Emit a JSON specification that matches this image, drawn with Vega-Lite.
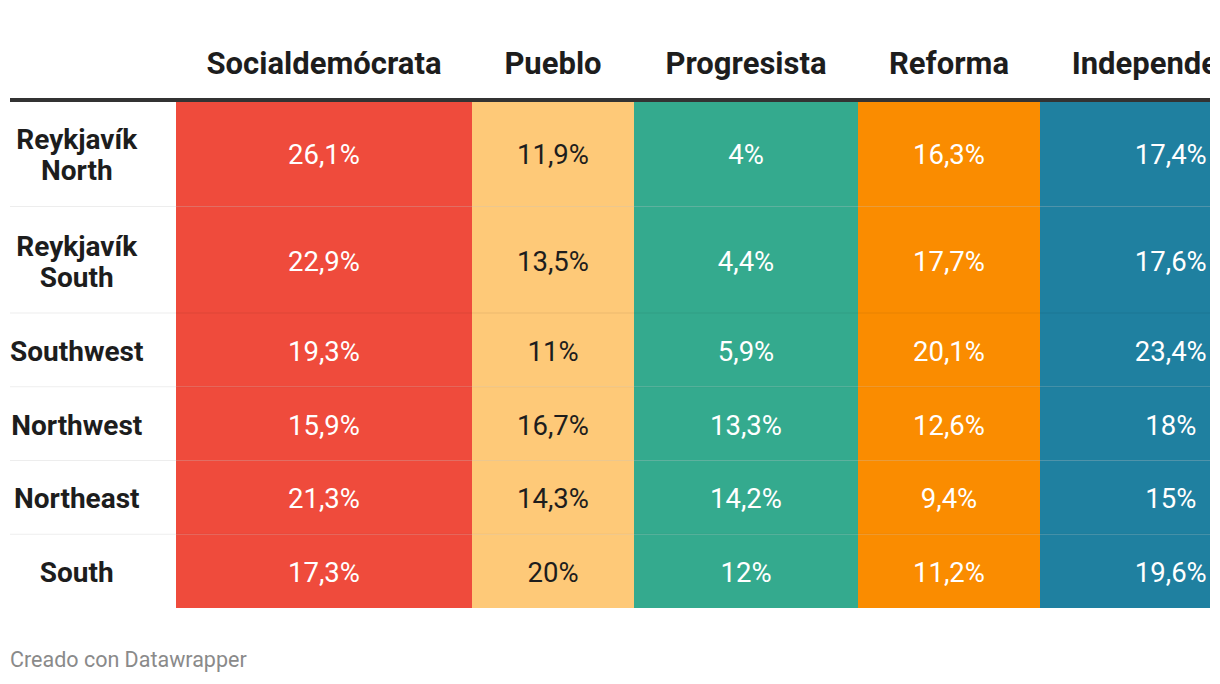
{
  "$schema": "https://vega.github.io/schema/vega-lite/v6.json",
  "padding": {"left": 8, "right": 8, "top": 0, "bottom": 0},
  "background": "#ffffff",
  "spacing": 0,
  "bounds": "flush",
  "columns": 6,
  "config": {
    "view": {"stroke": null},
    "concat": {"spacing": 0},
    "font": "Roboto",
    "locale": {"number": {"decimal": ",", "thousands": ".", "grouping": [3], "currency": ["", " €"]}}
  },
  "data": {"values": [
    {"region": "Reykjavík North", "party": "Socialdemócrata", "share": 0.261},
    {"region": "Reykjavík North", "party": "Pueblo", "share": 0.119},
    {"region": "Reykjavík North", "party": "Progresista", "share": 0.04},
    {"region": "Reykjavík North", "party": "Reforma", "share": 0.163},
    {"region": "Reykjavík North", "party": "Independencia", "share": 0.174},
    {"region": "Reykjavík South", "party": "Socialdemócrata", "share": 0.229},
    {"region": "Reykjavík South", "party": "Pueblo", "share": 0.135},
    {"region": "Reykjavík South", "party": "Progresista", "share": 0.044},
    {"region": "Reykjavík South", "party": "Reforma", "share": 0.177},
    {"region": "Reykjavík South", "party": "Independencia", "share": 0.176},
    {"region": "Southwest", "party": "Socialdemócrata", "share": 0.193},
    {"region": "Southwest", "party": "Pueblo", "share": 0.11},
    {"region": "Southwest", "party": "Progresista", "share": 0.059},
    {"region": "Southwest", "party": "Reforma", "share": 0.201},
    {"region": "Southwest", "party": "Independencia", "share": 0.234},
    {"region": "Northwest", "party": "Socialdemócrata", "share": 0.159},
    {"region": "Northwest", "party": "Pueblo", "share": 0.167},
    {"region": "Northwest", "party": "Progresista", "share": 0.133},
    {"region": "Northwest", "party": "Reforma", "share": 0.126},
    {"region": "Northwest", "party": "Independencia", "share": 0.18},
    {"region": "Northeast", "party": "Socialdemócrata", "share": 0.213},
    {"region": "Northeast", "party": "Pueblo", "share": 0.143},
    {"region": "Northeast", "party": "Progresista", "share": 0.142},
    {"region": "Northeast", "party": "Reforma", "share": 0.094},
    {"region": "Northeast", "party": "Independencia", "share": 0.15},
    {"region": "South", "party": "Socialdemócrata", "share": 0.173},
    {"region": "South", "party": "Pueblo", "share": 0.2},
    {"region": "South", "party": "Progresista", "share": 0.12},
    {"region": "South", "party": "Reforma", "share": 0.112},
    {"region": "South", "party": "Independencia", "share": 0.196}
  ]},
  "concat": [
    {"width": 166, "height": 100, "data": {"values": [{}]}, "mark": {"type": "text", "text": ""}, "encoding": {}},
    {"width": 296, "height": 100,
     "transform": [{"filter": {"and": [{"field": "party", "equal": "Socialdemócrata"}, {"field": "region", "equal": "Reykjavík North"}]}}],
     "mark": {"type": "text", "font": "Roboto", "fontSize": 31, "fontWeight": "bold", "color": "#1d1d1d", "baseline": "alphabetic", "align": "center", "clip": true},
     "encoding": {"text": {"field": "party"}, "x": {"datum": 0.5, "type": "quantitative", "scale": {"domain": [0, 1]}, "axis": null}, "y": {"datum": 0.257, "type": "quantitative", "scale": {"domain": [0, 1]}, "axis": null}}},
    {"width": 162, "height": 100,
     "transform": [{"filter": {"and": [{"field": "party", "equal": "Pueblo"}, {"field": "region", "equal": "Reykjavík North"}]}}],
     "mark": {"type": "text", "font": "Roboto", "fontSize": 31, "fontWeight": "bold", "color": "#1d1d1d", "baseline": "alphabetic", "align": "center", "clip": true},
     "encoding": {"text": {"field": "party"}, "x": {"datum": 0.5, "type": "quantitative", "scale": {"domain": [0, 1]}, "axis": null}, "y": {"datum": 0.257, "type": "quantitative", "scale": {"domain": [0, 1]}, "axis": null}}},
    {"width": 224, "height": 100,
     "transform": [{"filter": {"and": [{"field": "party", "equal": "Progresista"}, {"field": "region", "equal": "Reykjavík North"}]}}],
     "mark": {"type": "text", "font": "Roboto", "fontSize": 31, "fontWeight": "bold", "color": "#1d1d1d", "baseline": "alphabetic", "align": "center", "clip": true},
     "encoding": {"text": {"field": "party"}, "x": {"datum": 0.5, "type": "quantitative", "scale": {"domain": [0, 1]}, "axis": null}, "y": {"datum": 0.257, "type": "quantitative", "scale": {"domain": [0, 1]}, "axis": null}}},
    {"width": 182, "height": 100,
     "transform": [{"filter": {"and": [{"field": "party", "equal": "Reforma"}, {"field": "region", "equal": "Reykjavík North"}]}}],
     "mark": {"type": "text", "font": "Roboto", "fontSize": 31, "fontWeight": "bold", "color": "#1d1d1d", "baseline": "alphabetic", "align": "center", "clip": true},
     "encoding": {"text": {"field": "party"}, "x": {"datum": 0.5, "type": "quantitative", "scale": {"domain": [0, 1]}, "axis": null}, "y": {"datum": 0.257, "type": "quantitative", "scale": {"domain": [0, 1]}, "axis": null}}},
    {"width": 170, "height": 100,
     "transform": [{"filter": {"and": [{"field": "party", "equal": "Independencia"}, {"field": "region", "equal": "Reykjavík North"}]}}],
     "mark": {"type": "text", "font": "Roboto", "fontSize": 31, "fontWeight": "bold", "color": "#1d1d1d", "baseline": "alphabetic", "align": "center", "clip": true},
     "encoding": {"text": {"field": "party"}, "x": {"datum": 0.5, "type": "quantitative", "scale": {"domain": [0, 0.6343]}, "axis": null}, "y": {"datum": 0.257, "type": "quantitative", "scale": {"domain": [0, 1]}, "axis": null}}},

    {"width": 166, "height": 213,
     "transform": [{"filter": {"field": "party", "equal": "Socialdemócrata"}}, {"filter": {"field": "region", "oneOf": ["Reykjavík North", "Reykjavík South"]}}],
     "encoding": {"y": {"field": "region", "type": "nominal", "scale": {"domain": ["Reykjavík North", "Reykjavík South"], "paddingInner": 0, "paddingOuter": 0}, "axis": null}},
     "layer": [
       {"mark": {"type": "rule", "color": "#000000", "strokeOpacity": 0.07, "strokeWidth": 1}, "encoding": {"y": {"field": "region", "type": "nominal", "bandPosition": 0}}},
       {"mark": {"type": "text", "font": "Roboto", "fontSize": 28, "fontWeight": "bold", "color": "#1d1d1d", "lineBreak": " ", "lineHeight": 31, "dy": -12}, "encoding": {"x": {"datum": 0.402, "type": "quantitative", "scale": {"domain": [0, 1]}, "axis": null}, "text": {"field": "region"}}},
       {"transform": [{"filter": {"field": "region", "equal": "Reykjavík North"}}], "mark": {"type": "rule", "color": "#333333", "strokeWidth": 4}, "encoding": {"y": {"field": "region", "type": "nominal", "bandPosition": 0}}}
     ]},
    {"width": 296, "height": 213,
     "transform": [{"filter": {"field": "party", "equal": "Socialdemócrata"}}, {"filter": {"field": "region", "oneOf": ["Reykjavík North", "Reykjavík South"]}}],
     "encoding": {"y": {"field": "region", "type": "nominal", "scale": {"domain": ["Reykjavík North", "Reykjavík South"], "paddingInner": 0, "paddingOuter": 0}, "axis": null}},
     "layer": [
       {"mark": {"type": "rect", "color": "#ef4b3c", "clip": true}, "encoding": {"x": {"datum": 0, "type": "quantitative", "scale": {"domain": [0, 1]}, "axis": null}, "x2": {"datum": 1}}},
       {"mark": {"type": "rule", "color": "#000000", "strokeOpacity": 0.07, "strokeWidth": 1}, "encoding": {"y": {"field": "region", "type": "nominal", "bandPosition": 0}}},
       {"mark": {"type": "text", "font": "Roboto", "fontSize": 27.5, "color": "#ffffff", "clip": true, "dy": 3}, "encoding": {"x": {"datum": 0.5, "type": "quantitative"}, "text": {"field": "share", "type": "quantitative", "format": ".1~%"}}},
       {"transform": [{"filter": {"field": "region", "equal": "Reykjavík North"}}], "mark": {"type": "rule", "color": "#333333", "strokeWidth": 4}, "encoding": {"y": {"field": "region", "type": "nominal", "bandPosition": 0}}}
     ]},
    {"width": 162, "height": 213,
     "transform": [{"filter": {"field": "party", "equal": "Pueblo"}}, {"filter": {"field": "region", "oneOf": ["Reykjavík North", "Reykjavík South"]}}],
     "encoding": {"y": {"field": "region", "type": "nominal", "scale": {"domain": ["Reykjavík North", "Reykjavík South"], "paddingInner": 0, "paddingOuter": 0}, "axis": null}},
     "layer": [
       {"mark": {"type": "rect", "color": "#fec978", "clip": true}, "encoding": {"x": {"datum": 0, "type": "quantitative", "scale": {"domain": [0, 1]}, "axis": null}, "x2": {"datum": 1}}},
       {"mark": {"type": "rule", "color": "#000000", "strokeOpacity": 0.07, "strokeWidth": 1}, "encoding": {"y": {"field": "region", "type": "nominal", "bandPosition": 0}}},
       {"mark": {"type": "text", "font": "Roboto", "fontSize": 27.5, "color": "#1d1d1d", "clip": true, "dy": 3}, "encoding": {"x": {"datum": 0.5, "type": "quantitative"}, "text": {"field": "share", "type": "quantitative", "format": ".1~%"}}},
       {"transform": [{"filter": {"field": "region", "equal": "Reykjavík North"}}], "mark": {"type": "rule", "color": "#333333", "strokeWidth": 4}, "encoding": {"y": {"field": "region", "type": "nominal", "bandPosition": 0}}}
     ]},
    {"width": 224, "height": 213,
     "transform": [{"filter": {"field": "party", "equal": "Progresista"}}, {"filter": {"field": "region", "oneOf": ["Reykjavík North", "Reykjavík South"]}}],
     "encoding": {"y": {"field": "region", "type": "nominal", "scale": {"domain": ["Reykjavík North", "Reykjavík South"], "paddingInner": 0, "paddingOuter": 0}, "axis": null}},
     "layer": [
       {"mark": {"type": "rect", "color": "#34aa8e", "clip": true}, "encoding": {"x": {"datum": 0, "type": "quantitative", "scale": {"domain": [0, 1]}, "axis": null}, "x2": {"datum": 1}}},
       {"mark": {"type": "rule", "color": "#000000", "strokeOpacity": 0.07, "strokeWidth": 1}, "encoding": {"y": {"field": "region", "type": "nominal", "bandPosition": 0}}},
       {"mark": {"type": "text", "font": "Roboto", "fontSize": 27.5, "color": "#ffffff", "clip": true, "dy": 3}, "encoding": {"x": {"datum": 0.5, "type": "quantitative"}, "text": {"field": "share", "type": "quantitative", "format": ".1~%"}}},
       {"transform": [{"filter": {"field": "region", "equal": "Reykjavík North"}}], "mark": {"type": "rule", "color": "#333333", "strokeWidth": 4}, "encoding": {"y": {"field": "region", "type": "nominal", "bandPosition": 0}}}
     ]},
    {"width": 182, "height": 213,
     "transform": [{"filter": {"field": "party", "equal": "Reforma"}}, {"filter": {"field": "region", "oneOf": ["Reykjavík North", "Reykjavík South"]}}],
     "encoding": {"y": {"field": "region", "type": "nominal", "scale": {"domain": ["Reykjavík North", "Reykjavík South"], "paddingInner": 0, "paddingOuter": 0}, "axis": null}},
     "layer": [
       {"mark": {"type": "rect", "color": "#fa8c00", "clip": true}, "encoding": {"x": {"datum": 0, "type": "quantitative", "scale": {"domain": [0, 1]}, "axis": null}, "x2": {"datum": 1}}},
       {"mark": {"type": "rule", "color": "#000000", "strokeOpacity": 0.07, "strokeWidth": 1}, "encoding": {"y": {"field": "region", "type": "nominal", "bandPosition": 0}}},
       {"mark": {"type": "text", "font": "Roboto", "fontSize": 27.5, "color": "#ffffff", "clip": true, "dy": 3}, "encoding": {"x": {"datum": 0.5, "type": "quantitative"}, "text": {"field": "share", "type": "quantitative", "format": ".1~%"}}},
       {"transform": [{"filter": {"field": "region", "equal": "Reykjavík North"}}], "mark": {"type": "rule", "color": "#333333", "strokeWidth": 4}, "encoding": {"y": {"field": "region", "type": "nominal", "bandPosition": 0}}}
     ]},
    {"width": 170, "height": 213,
     "transform": [{"filter": {"field": "party", "equal": "Independencia"}}, {"filter": {"field": "region", "oneOf": ["Reykjavík North", "Reykjavík South"]}}],
     "encoding": {"y": {"field": "region", "type": "nominal", "scale": {"domain": ["Reykjavík North", "Reykjavík South"], "paddingInner": 0, "paddingOuter": 0}, "axis": null}},
     "layer": [
       {"mark": {"type": "rect", "color": "#1f80a0", "clip": true}, "encoding": {"x": {"datum": 0, "type": "quantitative", "scale": {"domain": [0, 0.6343]}, "axis": null}, "x2": {"datum": 1}}},
       {"mark": {"type": "rule", "color": "#000000", "strokeOpacity": 0.07, "strokeWidth": 1}, "encoding": {"y": {"field": "region", "type": "nominal", "bandPosition": 0}}},
       {"mark": {"type": "text", "font": "Roboto", "fontSize": 27.5, "color": "#ffffff", "clip": true, "dy": 3}, "encoding": {"x": {"datum": 0.5, "type": "quantitative"}, "text": {"field": "share", "type": "quantitative", "format": ".1~%"}}},
       {"transform": [{"filter": {"field": "region", "equal": "Reykjavík North"}}], "mark": {"type": "rule", "color": "#333333", "strokeWidth": 4}, "encoding": {"y": {"field": "region", "type": "nominal", "bandPosition": 0}}}
     ]},

    {"width": 166, "height": 295,
     "transform": [{"filter": {"field": "party", "equal": "Socialdemócrata"}}, {"filter": {"field": "region", "oneOf": ["Southwest", "Northwest", "Northeast", "South"]}}],
     "encoding": {"y": {"field": "region", "type": "nominal", "scale": {"domain": ["Southwest", "Northwest", "Northeast", "South"], "paddingInner": 0, "paddingOuter": 0}, "axis": null}},
     "layer": [
       {"mark": {"type": "rule", "color": "#000000", "strokeOpacity": 0.07, "strokeWidth": 1}, "encoding": {"y": {"field": "region", "type": "nominal", "bandPosition": 0}}},
       {"mark": {"type": "text", "font": "Roboto", "fontSize": 28, "fontWeight": "bold", "color": "#1d1d1d", "lineBreak": " ", "lineHeight": 31, "dy": 3}, "encoding": {"x": {"datum": 0.402, "type": "quantitative", "scale": {"domain": [0, 1]}, "axis": null}, "text": {"field": "region"}}}
     ]},
    {"width": 296, "height": 295,
     "transform": [{"filter": {"field": "party", "equal": "Socialdemócrata"}}, {"filter": {"field": "region", "oneOf": ["Southwest", "Northwest", "Northeast", "South"]}}],
     "encoding": {"y": {"field": "region", "type": "nominal", "scale": {"domain": ["Southwest", "Northwest", "Northeast", "South"], "paddingInner": 0, "paddingOuter": 0}, "axis": null}},
     "layer": [
       {"mark": {"type": "rect", "color": "#ef4b3c", "clip": true}, "encoding": {"x": {"datum": 0, "type": "quantitative", "scale": {"domain": [0, 1]}, "axis": null}, "x2": {"datum": 1}}},
       {"mark": {"type": "rule", "color": "#000000", "strokeOpacity": 0.07, "strokeWidth": 1}, "encoding": {"y": {"field": "region", "type": "nominal", "bandPosition": 0}}},
       {"mark": {"type": "text", "font": "Roboto", "fontSize": 27.5, "color": "#ffffff", "clip": true, "dy": 3}, "encoding": {"x": {"datum": 0.5, "type": "quantitative"}, "text": {"field": "share", "type": "quantitative", "format": ".1~%"}}}
     ]},
    {"width": 162, "height": 295,
     "transform": [{"filter": {"field": "party", "equal": "Pueblo"}}, {"filter": {"field": "region", "oneOf": ["Southwest", "Northwest", "Northeast", "South"]}}],
     "encoding": {"y": {"field": "region", "type": "nominal", "scale": {"domain": ["Southwest", "Northwest", "Northeast", "South"], "paddingInner": 0, "paddingOuter": 0}, "axis": null}},
     "layer": [
       {"mark": {"type": "rect", "color": "#fec978", "clip": true}, "encoding": {"x": {"datum": 0, "type": "quantitative", "scale": {"domain": [0, 1]}, "axis": null}, "x2": {"datum": 1}}},
       {"mark": {"type": "rule", "color": "#000000", "strokeOpacity": 0.07, "strokeWidth": 1}, "encoding": {"y": {"field": "region", "type": "nominal", "bandPosition": 0}}},
       {"mark": {"type": "text", "font": "Roboto", "fontSize": 27.5, "color": "#1d1d1d", "clip": true, "dy": 3}, "encoding": {"x": {"datum": 0.5, "type": "quantitative"}, "text": {"field": "share", "type": "quantitative", "format": ".1~%"}}}
     ]},
    {"width": 224, "height": 295,
     "transform": [{"filter": {"field": "party", "equal": "Progresista"}}, {"filter": {"field": "region", "oneOf": ["Southwest", "Northwest", "Northeast", "South"]}}],
     "encoding": {"y": {"field": "region", "type": "nominal", "scale": {"domain": ["Southwest", "Northwest", "Northeast", "South"], "paddingInner": 0, "paddingOuter": 0}, "axis": null}},
     "layer": [
       {"mark": {"type": "rect", "color": "#34aa8e", "clip": true}, "encoding": {"x": {"datum": 0, "type": "quantitative", "scale": {"domain": [0, 1]}, "axis": null}, "x2": {"datum": 1}}},
       {"mark": {"type": "rule", "color": "#000000", "strokeOpacity": 0.07, "strokeWidth": 1}, "encoding": {"y": {"field": "region", "type": "nominal", "bandPosition": 0}}},
       {"mark": {"type": "text", "font": "Roboto", "fontSize": 27.5, "color": "#ffffff", "clip": true, "dy": 3}, "encoding": {"x": {"datum": 0.5, "type": "quantitative"}, "text": {"field": "share", "type": "quantitative", "format": ".1~%"}}}
     ]},
    {"width": 182, "height": 295,
     "transform": [{"filter": {"field": "party", "equal": "Reforma"}}, {"filter": {"field": "region", "oneOf": ["Southwest", "Northwest", "Northeast", "South"]}}],
     "encoding": {"y": {"field": "region", "type": "nominal", "scale": {"domain": ["Southwest", "Northwest", "Northeast", "South"], "paddingInner": 0, "paddingOuter": 0}, "axis": null}},
     "layer": [
       {"mark": {"type": "rect", "color": "#fa8c00", "clip": true}, "encoding": {"x": {"datum": 0, "type": "quantitative", "scale": {"domain": [0, 1]}, "axis": null}, "x2": {"datum": 1}}},
       {"mark": {"type": "rule", "color": "#000000", "strokeOpacity": 0.07, "strokeWidth": 1}, "encoding": {"y": {"field": "region", "type": "nominal", "bandPosition": 0}}},
       {"mark": {"type": "text", "font": "Roboto", "fontSize": 27.5, "color": "#ffffff", "clip": true, "dy": 3}, "encoding": {"x": {"datum": 0.5, "type": "quantitative"}, "text": {"field": "share", "type": "quantitative", "format": ".1~%"}}}
     ]},
    {"width": 170, "height": 295,
     "transform": [{"filter": {"field": "party", "equal": "Independencia"}}, {"filter": {"field": "region", "oneOf": ["Southwest", "Northwest", "Northeast", "South"]}}],
     "encoding": {"y": {"field": "region", "type": "nominal", "scale": {"domain": ["Southwest", "Northwest", "Northeast", "South"], "paddingInner": 0, "paddingOuter": 0}, "axis": null}},
     "layer": [
       {"mark": {"type": "rect", "color": "#1f80a0", "clip": true}, "encoding": {"x": {"datum": 0, "type": "quantitative", "scale": {"domain": [0, 0.6343]}, "axis": null}, "x2": {"datum": 1}}},
       {"mark": {"type": "rule", "color": "#000000", "strokeOpacity": 0.07, "strokeWidth": 1}, "encoding": {"y": {"field": "region", "type": "nominal", "bandPosition": 0}}},
       {"mark": {"type": "text", "font": "Roboto", "fontSize": 27.5, "color": "#ffffff", "clip": true, "dy": 3}, "encoding": {"x": {"datum": 0.5, "type": "quantitative"}, "text": {"field": "share", "type": "quantitative", "format": ".1~%"}}}
     ]},

    {
      "width": 166, "height": 76,
      "data": {"values": [{"note": "Creado con Datawrapper"}]},
      "mark": {"type": "text", "font": "Roboto", "fontSize": 21.5, "color": "#8a8a8a", "align": "left", "baseline": "alphabetic"},
      "encoding": {
        "text": {"field": "note"},
        "x": {"datum": 0, "type": "quantitative", "scale": {"domain": [0, 1]}, "axis": null},
        "y": {"datum": 0.228, "type": "quantitative", "scale": {"domain": [0, 1]}, "axis": null}
      }
    }
  ]
}
